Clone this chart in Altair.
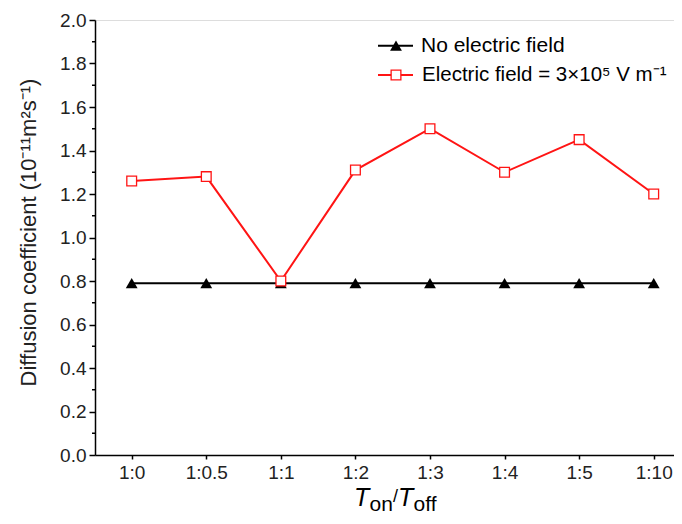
import json
import pandas as pd
import altair as alt

# ---- data ----
ratios = ["1:0", "1:0.5", "1:1", "1:2", "1:3", "1:4", "1:5", "1:10"]
no_field = [0.79, 0.79, 0.79, 0.79, 0.79, 0.79, 0.79, 0.79]
with_field = [1.26, 1.28, 0.80, 1.31, 1.50, 1.30, 1.45, 1.20]
y_ticks = [0.0, 0.2, 0.4, 0.6, 0.8, 1.0, 1.2, 1.4, 1.6, 1.8, 2.0]
y_minor = [0.1, 0.3, 0.5, 0.7, 0.9, 1.1, 1.3, 1.5, 1.7, 1.9]
legend_labels = ["No electric field", "Electric field = 3×10⁵ V m⁻¹"]
y_title = "Diffusion coefficient (10⁻¹¹m²s⁻¹)"
x_title_parts = ["T", "on", "/", "T", "off"]

FONT = "Liberation Sans"
RED = "#ff1414"

df = pd.DataFrame({"idx": list(range(len(ratios))), "ratio": ratios,
                   "none": no_field, "field": with_field})
minor_df = pd.DataFrame({"v": y_minor})
one = pd.DataFrame({"a": [0]})

xscale = alt.Scale(domain=[-0.492, 7.272], nice=False, zero=False)
yscale = alt.Scale(domain=[0, 2], nice=False)

x_axis = alt.Axis(values=list(range(len(ratios))),
                  labelExpr=f"{json.dumps(ratios)}[datum.value]",
                  title=None, grid=False, tickSize=4, tickWidth=1.5,
                  tickColor="black", domainColor="black", domainWidth=1.5,
                  labelFontSize=19, labelColor="#222", labelPadding=4,
                  labelFont=FONT)
y_axis = alt.Axis(values=y_ticks, format=".1f", grid=False, tickSize=6,
                  tickWidth=1.5, tickColor="black", domainColor="black",
                  domainWidth=1.5, labelFontSize=19, labelColor="#222",
                  labelPadding=3, labelFont=FONT,
                  title=y_title, titleFont=FONT, titleFontSize=22,
                  titleFontWeight="normal", titleColor="#222",
                  titleAngle=270, titleX=-67, titleY=212,
                  titleBaseline="middle", titleAlign="center")

base = alt.Chart(df)
X = alt.X("idx:Q", scale=xscale, axis=x_axis)

black_line = base.mark_line(color="black", strokeWidth=2).encode(
    x=X, y=alt.Y("none:Q", scale=yscale, axis=y_axis))
red_line = base.mark_line(color=RED, strokeWidth=2).encode(
    x=alt.X("idx:Q", scale=xscale), y=alt.Y("field:Q", scale=yscale))
black_pts = base.mark_point(shape="triangle-up", filled=True, color="black",
                            size=140, opacity=1).encode(
    x=alt.X("idx:Q", scale=xscale), y=alt.Y("none:Q", scale=yscale))
red_pts = base.mark_point(shape="square", filled=True, fill="white",
                          stroke=RED, strokeWidth=1.3, size=95,
                          opacity=1).encode(
    x=alt.X("idx:Q", scale=xscale), y=alt.Y("field:Q", scale=yscale))

minor = alt.Chart(minor_df).mark_rule(color="black", strokeWidth=1.5).encode(
    y=alt.Y("v:Q", scale=yscale), x=alt.value(-3), x2=alt.value(0))

# manual legend
leg = []
leg.append(alt.Chart(one).mark_rule(color="black", strokeWidth=2).encode(
    x=alt.value(283), x2=alt.value(318), y=alt.value(25.7)))
leg.append(alt.Chart(one).mark_point(shape="triangle-up", filled=True,
                                     color="black", size=140, opacity=1).encode(
    x=alt.value(301), y=alt.value(25.7)))
leg.append(alt.Chart(one).mark_text(align="left", baseline="middle",
                                    font=FONT, fontSize=21, color="black").encode(
    x=alt.value(326), y=alt.value(26), text=alt.value(legend_labels[0])))
leg.append(alt.Chart(one).mark_rule(color=RED, strokeWidth=2).encode(
    x=alt.value(283), x2=alt.value(318), y=alt.value(55)))
leg.append(alt.Chart(one).mark_point(shape="square", filled=True, fill="white",
                                     stroke=RED, strokeWidth=1.3,
                                     size=95, opacity=1).encode(
    x=alt.value(301), y=alt.value(55)))
leg.append(alt.Chart(one).mark_text(align="left", baseline="middle",
                                    font=FONT, fontSize=20.5, color="black").encode(
    x=alt.value(327), y=alt.value(55), text=alt.value(legend_labels[1])))

# x title built from pieces (italic T with subscripts)
xt = []
pieces = [  # text, x, baseline y, size, italic
    (x_title_parts[0], 259, 486, 25, True),
    (x_title_parts[1], 274.5, 491, 21, False),
    (x_title_parts[2], 298, 482, 18, False),
    (x_title_parts[3], 303, 486, 25, True),
    (x_title_parts[4], 318.5, 491, 21, False),
]
for txt, px, py, fs, it in pieces:
    xt.append(alt.Chart(one).mark_text(
        align="left", baseline="alphabetic", font=FONT, fontSize=fs,
        fontStyle="italic" if it else "normal", color="black").encode(
        x=alt.value(px), y=alt.value(py), text=alt.value(txt)))

chart = alt.layer(black_line, red_line, black_pts, red_pts, minor,
                  *leg, *xt).properties(
    width=579, height=435, autosize="none",
    padding={"left": 87, "top": 12, "right": 0, "bottom": 59},
).configure_view(stroke="black", strokeWidth=1.5).configure(
    font=FONT, background="white")

chart.save("out.html", embed_options={"renderer": "svg", "actions": False})
